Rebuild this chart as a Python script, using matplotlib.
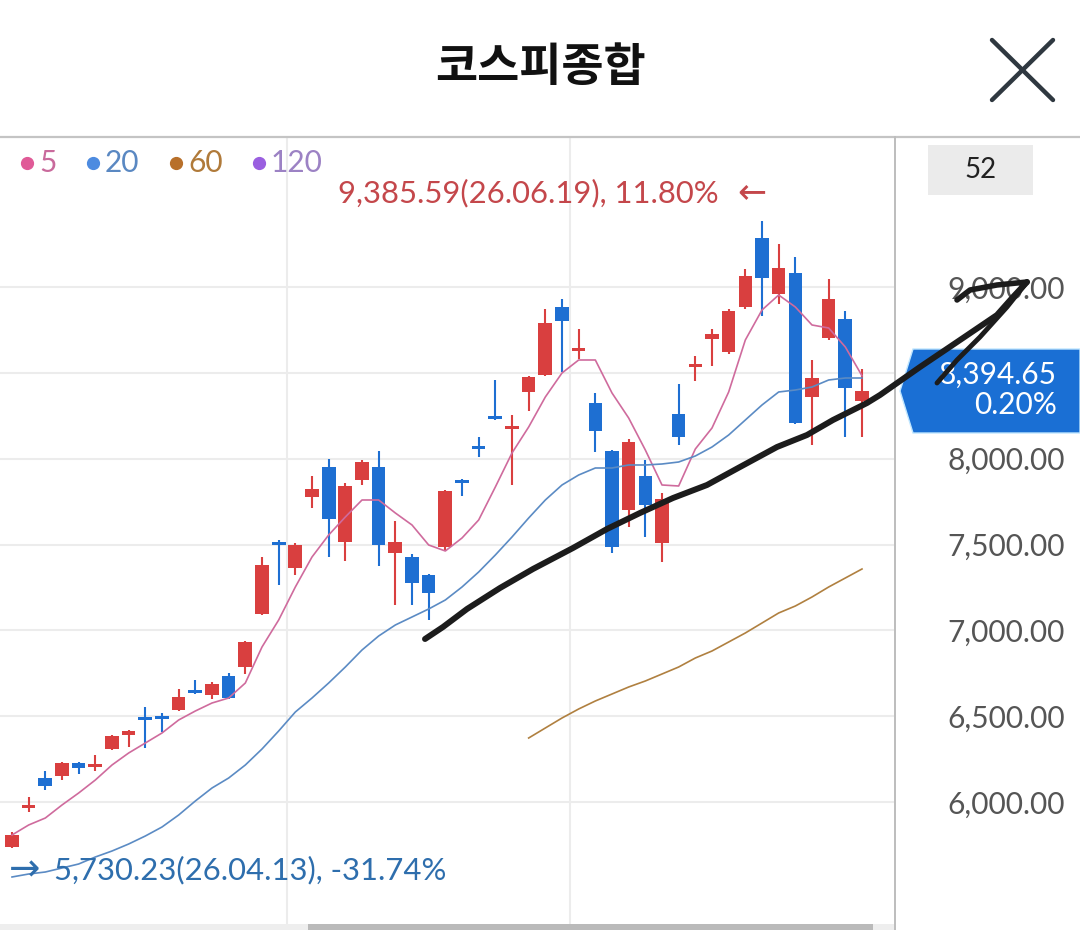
import matplotlib
matplotlib.use("Agg")
import matplotlib.pyplot as plt
import numpy as np
from matplotlib.lines import Line2D
from matplotlib.patches import Rectangle, Polygon

# ---------------- data ----------------
opens = [5738.0, 5965.2, 6139.9, 6151.6, 6227.3, 6204.0, 6308.9, 6390.4, 6489.4, 6495.2,
         6536.0, 6646.7, 6623.4, 6734.1, 6786.5, 7095.2, 7508.8, 7363.2, 7776.8, 7951.5,
         7514.6, 7875.8, 7951.5, 7450.6, 7427.3, 7322.4, 7485.5, 7870.0, 8068.0, 8242.8,
         8172.9, 8388.4, 8487.4, 8883.5, 8627.2, 8324.3, 8044.7, 7701.0, 7899.1, 7508.8,
         8260.2, 8534.0, 8697.1, 8621.4, 8883.5, 9285.4, 8959.2, 9081.6, 8359.3, 8702.9,
         8813.6, 8336.0]
highs = [5825.4, 6029.3, 6180.7, 6233.1, 6233.0, 6273.9, 6388.0, 6419.5, 6553.5, 6518.6,
         6658.4, 6710.8, 6699.1, 6751.6, 6938.0, 7427.3, 7526.3, 7508.8, 7899.1, 7998.1,
         7858.3, 7992.3, 8044.7, 7636.9, 7444.8, 7328.0, 7817.5, 7881.6, 8126.3, 8458.3,
         8254.4, 8481.6, 8871.9, 8930.1, 8755.3, 8382.6, 8050.5, 8114.6, 7992.3, 7800.1,
         8435.0, 8598.1, 8755.3, 8871.9, 9104.8, 9385.59, 9250.5, 9174.8, 8574.8, 9046.6,
         8860.2, 8522.3]
lows = [5730.23, 5941.9, 6070.0, 6128.3, 6163.2, 6180.7, 6303.0, 6320.5, 6314.7, 6407.9,
        6530.2, 6629.3, 6600.1, 6600.0, 6745.8, 7089.4, 7264.2, 7322.4, 7712.7, 7427.3,
        7404.0, 7846.6, 7374.8, 7147.7, 7147.7, 7060.3, 7468.0, 7782.6, 8009.8, 8225.3,
        7846.6, 8277.7, 8481.6, 8504.9, 8580.6, 8038.9, 7450.6, 7602.0, 7543.8, 7398.1,
        8079.6, 8452.5, 8539.8, 8609.7, 8871.9, 8831.1, 8900.9, 8202.0, 8079.6, 8691.3,
        8126.3, 8126.3]
closes = [5807.9, 5976.9, 6093.3, 6227.3, 6198.2, 6215.6, 6384.6, 6413.7, 6477.8, 6483.6,
          6611.8, 6635.1, 6687.5, 6606.0, 6932.1, 7380.7, 7497.1, 7497.1, 7823.4, 7648.6,
          7840.8, 7980.6, 7497.1, 7514.6, 7275.8, 7217.6, 7811.7, 7858.3, 8056.3, 8231.1,
          8184.6, 8475.8, 8790.3, 8801.9, 8638.9, 8161.2, 7485.5, 8097.1, 7730.1, 7765.1,
          8126.3, 8545.6, 8726.2, 8860.2, 9064.1, 9052.4, 9110.7, 8207.8, 8470.0, 8930.1,
          8411.7, 8394.65]

ma5 = [5807.9, 5866.2, 5906.9, 5982.7, 6052.6, 6128.3, 6215.7, 6285.6, 6343.8, 6402.1,
       6477.8, 6530.2, 6576.8, 6605.9, 6693.3, 6903.0, 7060.3, 7252.5, 7427.3, 7555.4,
       7660.3, 7759.3, 7759.3, 7683.6, 7613.7, 7497.2, 7462.2, 7537.9, 7642.8, 7835.0,
       8033.1, 8184.5, 8359.3, 8499.1, 8574.8, 8574.8, 8382.6, 8236.9, 8050.5, 7846.7,
       7840.8, 8056.4, 8178.7, 8388.4, 8691.3, 8866.0, 8953.4, 8883.5, 8778.7, 8761.2,
       8650.5, 8482.9]
ma20 = [5563.3, 5580.7, 5592.4, 5615.7, 5639.0, 5679.8, 5714.7, 5755.5, 5802.1, 5854.5,
        5924.4, 6006.0, 6081.7, 6139.9, 6215.7, 6308.9, 6413.7, 6524.4, 6605.9, 6693.3,
        6786.5, 6885.5, 6967.1, 7031.2, 7077.8, 7124.4, 7176.8, 7252.5, 7339.9, 7438.9,
        7543.8, 7654.4, 7759.3, 7846.7, 7904.9, 7945.7, 7945.7, 7963.2, 7963.2, 7969.0,
        7980.6, 8015.6, 8068.0, 8137.9, 8225.3, 8312.7, 8388.4, 8400.0, 8417.5, 8458.3,
        8469.9, 8469.9]
ma60_start = 31
ma60 = [6372.9, 6431.2, 6489.4, 6541.9, 6588.5, 6629.2, 6670.0, 6705.0, 6745.7, 6786.5,
        6838.9, 6879.7, 6932.1, 6984.6, 7042.8, 7101.1, 7141.8, 7194.3, 7252.5, 7304.9,
        7357.4]

yticks = [6000, 6500, 7000, 7500, 8000, 8500, 9000]
hidden_tick = 8500  # covered by the current-price tag in the app
legend_labels = ["5", "20", "60", "120"]

high_text = "9,385.59(26.06.19), 11.80%"
low_text = "5,730.23(26.04.13), -31.74%"
last_price = "8,394.65"
last_change = "0.20%"
count_text = "52"
title_text = "코스피종합"

# hand-drawn annotation stroke (candle index, price)
pen_x = [24.78, 25.86, 27.30, 29.28, 31.26, 33.66, 35.70, 37.68, 39.66, 41.70, 43.68,
         45.90, 47.70, 49.26, 51.30, 52.08, 54.48, 57.06, 59.10, 60.06, 60.90]
pen_y = [6949.6, 7019.5, 7124.4, 7246.7, 7357.4, 7479.7, 7590.4, 7683.6, 7770.9, 7846.7,
         7951.5, 8068.0, 8137.9, 8225.3, 8324.3, 8370.9, 8534.0, 8702.9, 8836.9, 8941.8,
         9029.1]
pen2_x = [60.90, 59.70, 58.08, 56.70, 55.50]
pen2_y = [9029.1, 8883.5, 8708.8, 8574.8, 8440.8]
pen3_x = [60.90, 59.10, 57.48, 56.70]
pen3_y = [9029.1, 9011.7, 8982.5, 8924.3]

# ---------------- figure ----------------
W, H = 1080, 930
fig = plt.figure(figsize=(W / 100, H / 100), dpi=100)
fig.patch.set_facecolor("white")

def fx(px):
    return px / W

def fy(py):
    return 1 - py / H

ax_left, ax_right, ax_top, ax_bot = 0, 894, 137, 924
rect = [fx(ax_left), fy(ax_bot), fx(ax_right - ax_left), (ax_bot - ax_top) / H]
ax = fig.add_axes(rect, zorder=0)
ax.set_facecolor("white")
YLIM = (5289.5, 9873.7)
XLIM = (-0.72, 52.92)
ax.set_ylim(*YLIM)
ax.set_xlim(*XLIM)
for s in ax.spines.values():
    s.set_visible(False)

UP = "#d93f3f"
DOWN = "#1e6fd2"
o = np.array(opens); h = np.array(highs); l = np.array(lows); c = np.array(closes)
x = np.arange(len(o))
colors = [UP if cc >= oo else DOWN for oo, cc in zip(o, c)]

ax.set_yticks(yticks)
ax.set_yticklabels(["" if v == hidden_tick else f"{v:,.2f}" for v in yticks])
ax.yaxis.tick_right()
ax.tick_params(axis="y", length=0, pad=123, labelsize=21.5, labelcolor="#555555")
for t in ax.get_yticklabels():
    t.set_ha("right")
    t.set_fontfamily(["Lato", "DejaVu Sans"])
ax.set_xticks([16.5, 33.5])
ax.tick_params(axis="x", length=0, labelbottom=False)
ax.grid(True, color="#ececec", lw=1.5)
ax.set_axisbelow(True)

ax.vlines(x, l, h, colors=colors, lw=1.5, zorder=2)
body_bottom = np.minimum(o, c)
body_h = np.maximum(np.abs(c - o), 16)
ax.bar(x, body_h, bottom=body_bottom, width=0.82, color=colors, zorder=3, linewidth=0)

ax.plot(x, ma5, color="#cf6b9d", lw=1.2, zorder=4)
ax.plot(x, ma20, color="#5b8bc4", lw=1.2, zorder=4)
ax.plot(np.arange(ma60_start, ma60_start + len(ma60)), ma60, color="#b08040", lw=1.2, zorder=4)

# ---------------- chrome ----------------
fig.add_artist(Line2D([0, 1], [fy(137), fy(137)], color="#c4c4c4", lw=1.6))
fig.add_artist(Line2D([fx(895), fx(895)], [fy(137), 0], color="#bdbdbd", lw=1.4))
fig.add_artist(Rectangle((0, 0), fx(894), 6 / H, color="#eeeeee", lw=0))
fig.add_artist(Rectangle((fx(308), 0), fx(873 - 308), 6 / H, color="#bababa", lw=0))

fig.text(fx(540), fy(68), title_text, ha="center", va="center", fontsize=33,
         fontweight="bold", family=["Noto Sans CJK KR", "DejaVu Sans"], color="#111111")
fig.add_artist(Line2D([fx(992), fx(1053)], [fy(40), fy(100)], color="#2f3840", lw=3.2,
                      solid_capstyle="round"))
fig.add_artist(Line2D([fx(992), fx(1053)], [fy(100), fy(40)], color="#2f3840", lw=3.2,
                      solid_capstyle="round"))

# count box
fig.add_artist(Rectangle((fx(928), fy(195)), fx(105), 50 / H, color="#ebebeb", lw=0))
fig.text(fx(981), fy(170), count_text, ha="center", va="center", fontsize=20,
         family=["Lato", "DejaVu Sans"], color="#222222")

# legend
dot_cols = ["#e05a97", "#4d8be0", "#b8702a", "#9a5fe0"]
txt_cols = ["#c96a9c", "#5a88c2", "#b07a3a", "#9c82c4"]
dot_x = [27, 93, 176, 259]
for lab, dc, tc, dx in zip(legend_labels, dot_cols, txt_cols, dot_x):
    fig.add_artist(Line2D([fx(dx)], [fy(163)], marker="o", markersize=8.5, color=dc, lw=0))
    fig.text(fx(dx + 12), fy(163), lab, ha="left", va="center", fontsize=21.5,
             family=["Lato", "DejaVu Sans"], color=tc)

# high / low annotations
fig.text(fx(719), fy(193), high_text, ha="right", va="center", fontsize=22.3,
         family=["Lato", "DejaVu Sans"], color="#c4474b")
fig.text(fx(752), fy(192), "←", ha="center", va="center", fontsize=25,
         family=["DejaVu Sans"], color="#c4474b")
fig.text(fx(25), fy(870), "→", ha="center", va="center", fontsize=27,
         family=["DejaVu Sans"], color="#2e6ead")
fig.text(fx(54), fy(870), low_text, ha="left", va="center", fontsize=22.3,
         family=["Lato", "DejaVu Sans"], color="#2e6ead")

# price tag
tag = [(fx(913), fy(349)), (fx(900), fy(391)), (fx(913), fy(433)), (1, fy(433)), (1, fy(349))]
fig.add_artist(Polygon(tag, closed=True, facecolor="#1a6fd4", edgecolor="#bfe6ff", lw=1,
                       zorder=2))
fig.text(fx(1057), fy(375), last_price, ha="right", va="center", fontsize=21.5,
         family=["Lato", "DejaVu Sans"], color="white", zorder=3)
fig.text(fx(1057), fy(405), last_change, ha="right", va="center", fontsize=21.5,
         family=["Lato", "DejaVu Sans"], color="white", zorder=3)

# hand-drawn strokes on a transparent overlay axes above everything
ov = fig.add_axes(rect, zorder=10)
ov.set_xlim(*XLIM)
ov.set_ylim(*YLIM)
ov.axis("off")
ov.patch.set_alpha(0)
for px_, py_, lw in [(pen_x, pen_y, 4.3), (pen2_x, pen2_y, 3.5), (pen3_x, pen3_y, 4.0)]:
    ov.plot(px_, py_, color="#1c1c1c", lw=lw, clip_on=False,
            solid_capstyle="round", solid_joinstyle="round")

fig.savefig("out.png", dpi=100, facecolor="white")
